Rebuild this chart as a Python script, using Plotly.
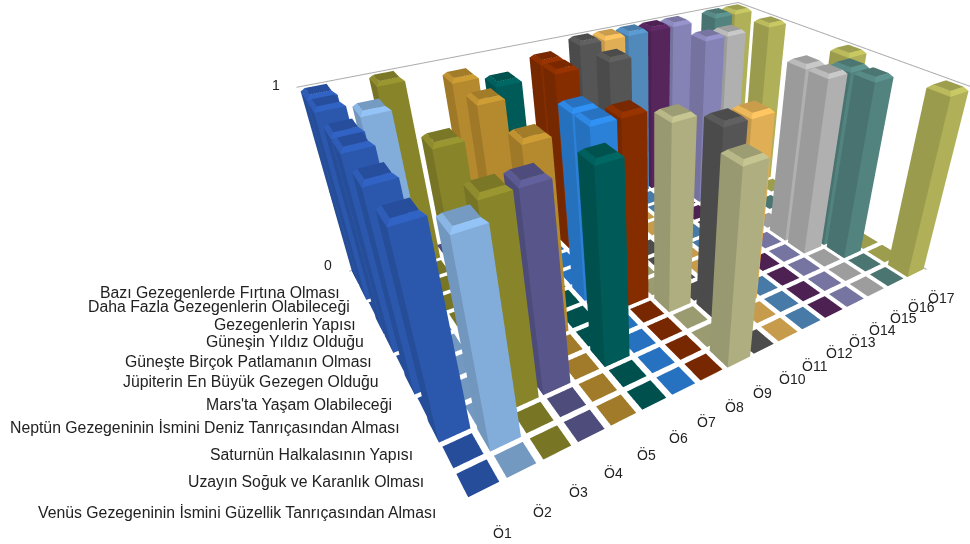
import plotly.graph_objects as go

# Categories, back row first
categories = [
    "Bazı Gezegenlerde Fırtına Olması",
    "Daha Fazla Gezegenlerin Olabileceği",
    "Gezegenlerin Yapısı",
    "Güneşin Yıldız Olduğu",
    "Güneşte Birçok Patlamanın Olması",
    "Jüpiterin En Büyük Gezegen Olduğu",
    "Mars'ta Yaşam Olabileceği",
    "Neptün Gezegeninin İsmini Deniz Tanrıçasından Alması",
    "Saturnün Halkalasının Yapısı",
    "Uzayın Soğuk ve Karanlık Olması",
    "Venüs Gezegeninin İsmini Güzellik Tanrıçasından Alması",
]
students = [f"Ö{n}" for n in range(1, 18)]

# One value per category for each student
o1  = [1, 1, 0, 1, 1, 0, 1, 0, 1, 0, 0]
o2  = [0, 0, 1, 0, 0, 0, 0, 0, 0, 1, 0]
o3  = [1, 0, 0, 0, 0, 1, 0, 0, 1, 0, 0]
o4  = [0, 0, 0, 0, 0, 0, 0, 0, 1, 0, 0]
o5  = [0, 1, 0, 1, 0, 0, 1, 0, 0, 0, 0]
o6  = [0, 0, 1, 0, 0, 0, 0, 0, 1, 0, 0]
o7  = [0, 0, 0, 0, 0, 1, 1, 0, 0, 0, 0]
o8  = [0, 1, 1, 0, 0, 0, 1, 0, 0, 0, 0]
o9  = [0, 0, 0, 0, 0, 0, 0, 1, 0, 0, 1]
o10 = [1, 0, 1, 0, 0, 0, 0, 0, 1, 0, 0]
o11 = [1, 0, 0, 0, 0, 0, 0, 0, 1, 0, 0]
o12 = [1, 0, 0, 0, 0, 0, 0, 0, 0, 0, 0]
o13 = [1, 0, 0, 0, 0, 0, 0, 0, 0, 0, 0]
o14 = [1, 0, 1, 0, 0, 0, 0, 0, 0, 0, 0]
o15 = [0, 0, 1, 0, 0, 0, 1, 1, 0, 0, 0]
o16 = [1, 0, 0, 0, 0, 0, 0, 1, 1, 0, 0]
o17 = [1, 0, 1, 0, 0, 0, 1, 0, 0, 0, 1]
series = [o1, o2, o3, o4, o5, o6, o7, o8, o9, o10, o11, o12, o13, o14, o15, o16, o17]

colors = ["#2b57ad", "#82acd9", "#87842a", "#57558a", "#b58a2e", "#005b58",
          "#2b80d8", "#862d00", "#aeae80", "#555555", "#e0ae55", "#5089ba",
          "#56255c", "#8582b5", "#b0b0b0", "#53837f", "#b0b058"]

# The 3D view is wider and taller than the page; it is shifted up so its
# vanishing lines fall where the chart needs them.
VIEW_W, VIEW_H = 1322, 584
OFFSET_TOP = 72
LABEL_ROOM = 40
CANVAS_H = VIEW_H + LABEL_ROOM
TILE_GAP = 0.1
BAR_GAP = 0.07
BEVEL = 0.12
BEVEL_Z = 0.018


def shade(hex_color, factor):
    rgb = [int(hex_color[p:p + 2], 16) for p in (1, 3, 5)]
    return "#%02x%02x%02x" % tuple(min(255, round(c * factor)) for c in rgb)


class Faces:
    def __init__(self):
        self.x, self.y, self.z = [], [], []
        self.i, self.j, self.k = [], [], []
        self.color = []

    def quad(self, corners, color):
        n = len(self.x)
        for cx, cy, cz in corners:
            self.x.append(cx)
            self.y.append(cy)
            self.z.append(cz)
        self.i += [n, n]
        self.j += [n + 1, n + 2]
        self.k += [n + 2, n + 3]
        self.color += [color, color]


def add_bar(f, col, row, height, base):
    if height == 0:
        x0, x1 = col + TILE_GAP, col + 1 - TILE_GAP
        y0, y1 = row + TILE_GAP, row + 1 - TILE_GAP
        f.quad([(x0, y0, 0), (x1, y0, 0), (x1, y1, 0), (x0, y1, 0)], shade(base, 0.89))
        return
    x0, x1 = col + BAR_GAP, col + 1 - BAR_GAP
    y0, y1 = row + BAR_GAP, row + 1 - BAR_GAP
    zb = height - BEVEL_Z
    xi0, xi1, yi0, yi1 = x0 + BEVEL, x1 - BEVEL, y0 + BEVEL, y1 - BEVEL
    # Two camera-facing sides
    f.quad([(x0, y0, 0), (x1, y0, 0), (x1, y0, zb), (x0, y0, zb)], base)
    f.quad([(x0, y0, 0), (x0, y1, 0), (x0, y1, zb), (x0, y0, zb)], shade(base, 0.88))
    # Bevelled rim and flat cap
    f.quad([(x0, y0, zb), (x1, y0, zb), (xi1, yi0, height), (xi0, yi0, height)], shade(base, 1.14))
    f.quad([(x0, y0, zb), (x0, y1, zb), (xi0, yi1, height), (xi0, yi0, height)], shade(base, 1.06))
    f.quad([(xi0, yi0, height), (xi1, yi0, height), (xi1, yi1, height), (xi0, yi1, height)], shade(base, 0.9))


fig = go.Figure()
n_rows = len(categories)
n_cols = len(students)
for col, (name, values, base) in enumerate(zip(students, series, colors)):
    faces = Faces()
    for c, value in enumerate(values):
        add_bar(faces, col, n_rows - 1 - c, value, base)
    fig.add_trace(go.Mesh3d(
        x=faces.x, y=faces.y, z=faces.z, i=faces.i, j=faces.j, k=faces.k,
        facecolor=faces.color, flatshading=True, name=name, hoverinfo="skip",
        lighting=dict(ambient=1, diffuse=0, specular=0, roughness=1, fresnel=0),
    ))

# Upper edge of the two back walls at value 1, plus short floor ticks at value 0
for xs, ys, zs in [
    ([0, n_cols, n_cols], [n_rows, n_rows, 0], [1, 1, 1]),
    ([0, 0.3], [n_rows, n_rows], [0, 0]),
    ([n_cols, n_cols], [0, 0.3], [0, 0]),
]:
    fig.add_trace(go.Scatter3d(
        x=xs, y=ys, z=zs, mode="lines", line=dict(color="#adadad", width=2),
        hoverinfo="skip", showlegend=False,
    ))

hidden = dict(visible=False, showgrid=False, zeroline=False, showbackground=False)


def page_label(text, px, py, anchor, size=14):
    return dict(text=text, xref="paper", yref="paper", showarrow=False,
                x=px / VIEW_W, y=1 - (py + OFFSET_TOP) / CANVAS_H,
                xanchor=anchor, yanchor="middle",
                font=dict(family="Liberation Sans", size=size, color="#222222"))


category_ends = [(342, 292), (352, 307), (358, 324), (366, 341), (374, 361), (381, 381),
                 (394, 404), (402, 427), (415, 454), (426, 481), (438, 512)]
student_spots = [(502, 532), (542, 511), (578, 491), (613, 472), (646, 454), (678, 437),
                 (706, 421), (734, 406), (762, 392), (792, 378), (815, 365), (839, 352),
                 (862, 341), (882, 329), (903, 317), (921, 307), (941, 297)]

labels = [page_label(t, x, y, "right", 15.8) for t, (x, y) in zip(categories, category_ends)]
labels += [page_label(t, x, y, "center") for t, (x, y) in zip(students, student_spots)]
labels += [page_label("1", 282, 85, "right"), page_label("0", 334, 265, "right")]

fig.update_layout(
    width=VIEW_W, height=CANVAS_H, showlegend=False,
    margin=dict(l=0, r=0, t=0, b=0), paper_bgcolor="white",
    annotations=labels,
    scene=dict(
        domain=dict(x=[0, 1], y=[LABEL_ROOM / CANVAS_H, 1]),
        xaxis=dict(range=[0, n_cols], **hidden),
        yaxis=dict(range=[0, n_rows], **hidden),
        zaxis=dict(range=[0, 1], **hidden),
        aspectmode="manual",
        aspectratio=dict(x=1.5217, y=1, z=0.6109),
        camera=dict(
            eye=dict(x=-0.9526, y=-1.5229, z=1.0191),
            center=dict(x=-0.2407, y=-0.4742, z=0.2170),
            up=dict(x=0.2956, y=0.4457, z=0.8450),
            projection=dict(type="perspective"),
        ),
        bgcolor="white",
    ),
)

shift_view = (
    "var gd=document.querySelector('.plotly-graph-div');"
    f"gd.style.position='absolute';gd.style.left='0';gd.style.top='-{OFFSET_TOP}px';"
    "document.documentElement.style.overflow='hidden';"
    "document.body.style.overflow='hidden';"
)
fig.write_html("out.html", post_script=shift_view, config=dict(displayModeBar=False))
